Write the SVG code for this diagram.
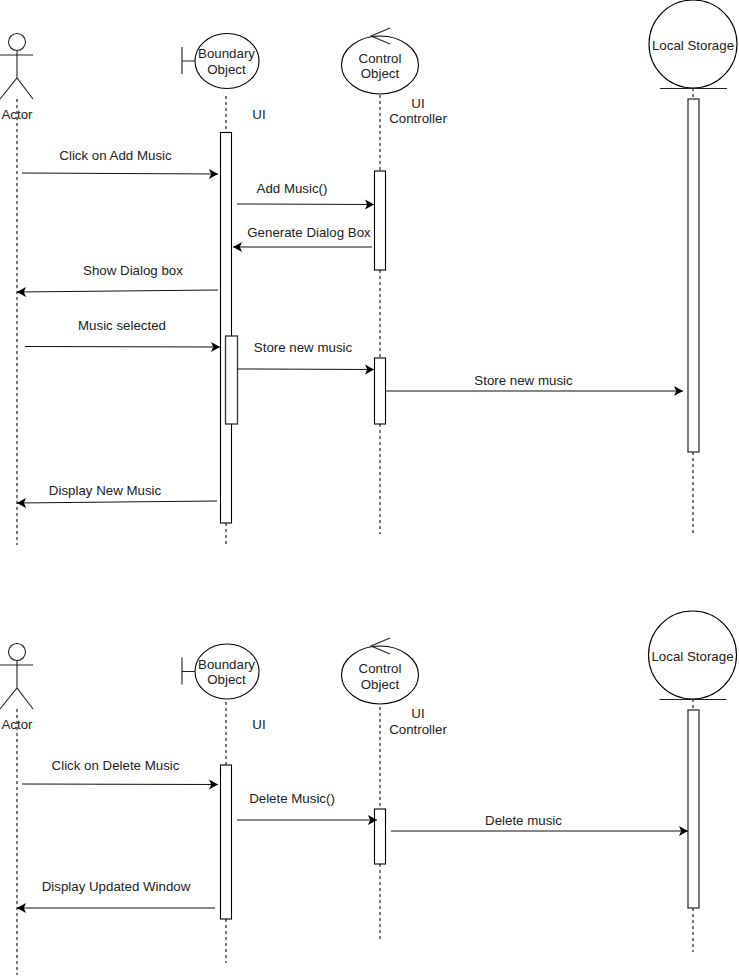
<svg xmlns="http://www.w3.org/2000/svg" width="739" height="976" viewBox="0 0 739 976">
<style>
text{font-family:"Liberation Sans",Arial,sans-serif;font-size:13.300px;fill:#222;text-anchor:middle}
.s{fill:#fff;stroke:#000;stroke-width:1.100}
.g{fill:#fff;stroke:#333;stroke-width:1.300}
.n{fill:none;stroke:#222;stroke-width:1.100}
.l{fill:none;stroke:#222;stroke-width:1.200;stroke-dasharray:3 3}
.m{fill:none;stroke:#111;stroke-width:1.100;marker-end:url(#a)}
</style>
<defs>
<marker id="a" markerUnits="userSpaceOnUse" markerWidth="11" markerHeight="11" refX="9" refY="5" orient="auto"><path d="M0 0L9 5L0 10L2.200 5Z" fill="#000"/></marker>
<g id="actor"><circle class="n" cx="17" cy="42" r="8.500"/><path class="n" d="M17 50.500V78M0 55H33M0 99L17 78L33 99"/></g>
<g id="boundary"><ellipse class="s" cx="227" cy="61" rx="32" ry="27.500"/><path class="n" d="M182 47V74M182 61H195"/></g>
<g id="control"><ellipse class="s" cx="380" cy="65" rx="38.500" ry="29"/><path class="n" d="M390 28L371 36L390 44"/></g>
<g id="storage"><circle class="s" cx="693" cy="44" r="44"/><path class="n" d="M660 88.500H727"/></g>
</defs>

<g id="connectors">
<path class="l" d="M17 99V545M226 96V133M226 523V545M380 95V171M380 270V358M380 424V534M693 88V99M693 452V534"/>
<path class="l" d="M17 709V975M226 702V765M226 919V963M380 707V809M380 864V941M693 699V710M693 908V952"/>
</g>

<g id="a1"><use href="#actor"/><text x="17" y="119">Actor</text></g>
<g id="b1"><use href="#boundary"/><text x="226.500" y="58">Boundary</text><text x="226.500" y="74">Object</text></g>
<g id="c1"><use href="#control"/><text x="380" y="63">Control</text><text x="380" y="78">Object</text></g>
<g id="s1"><use href="#storage"/><text x="693" y="50">Local Storage</text></g>
<g id="ui1"><text x="259" y="119">UI</text></g>
<g id="uc1"><text x="418" y="108">UI</text><text x="418" y="123">Controller</text></g>
<g id="act1"><rect class="s" x="220.500" y="132.500" width="11" height="390.500"/><rect class="g" x="225.500" y="336" width="12" height="88"/><rect class="s" x="374.500" y="171" width="11" height="99"/><rect class="s" x="374.500" y="358" width="11" height="66"/><rect class="g" x="688" y="99" width="11" height="353"/></g>

<g id="a2" transform="translate(0 610)"><use href="#actor"/><text x="17" y="119">Actor</text></g>
<g id="b2" transform="translate(0 610.500)"><use href="#boundary"/><text x="226.500" y="58">Boundary</text><text x="226.500" y="73.500">Object</text></g>
<g id="c2" transform="translate(0 610)"><use href="#control"/><text x="380" y="63">Control</text><text x="380" y="79">Object</text></g>
<g id="s2" transform="translate(-0.500 611)"><use href="#storage"/><text x="693" y="49.500">Local Storage</text></g>
<g id="ui2"><text x="259" y="729">UI</text></g>
<g id="uc2"><text x="418" y="718">UI</text><text x="418" y="734">Controller</text></g>
<g id="act2"><rect class="s" x="220.500" y="765" width="11" height="154"/><rect class="s" x="374.500" y="809" width="11" height="55"/><rect class="g" x="688" y="710" width="11" height="198"/></g>

<g id="messages">
<path class="m" d="M22 173L218 174"/><text x="115.500" y="160">Click on Add Music</text>
<path class="m" d="M237 204L374 204.500"/><text x="292" y="193">Add Music()</text>
<path class="m" d="M372 247L233 247"/><text x="309" y="237">Generate Dialog Box</text>
<path class="m" d="M218 290L17 292"/><text x="133" y="275">Show Dialog box</text>
<path class="m" d="M25 346.500L220 347"/><text x="122" y="330">Music selected</text>
<path class="m" d="M237 369L374 369.500"/><text x="303" y="352">Store new music</text>
<path class="m" d="M385.500 391L683 391"/><text x="523.500" y="385">Store new music</text>
<path class="m" d="M217 501L17 503"/><text x="105" y="495">Display New Music</text>
<path class="m" d="M22 784L218 784.500"/><text x="115.500" y="770">Click on Delete Music</text>
<path class="m" d="M237 820L377 820"/><text x="292" y="803">Delete Music()</text>
<path class="m" d="M391 831L688 831"/><text x="523.500" y="825">Delete music</text>
<path class="m" d="M215 908L17 908"/><text x="116" y="891">Display Updated Window</text>
</g>
</svg>
